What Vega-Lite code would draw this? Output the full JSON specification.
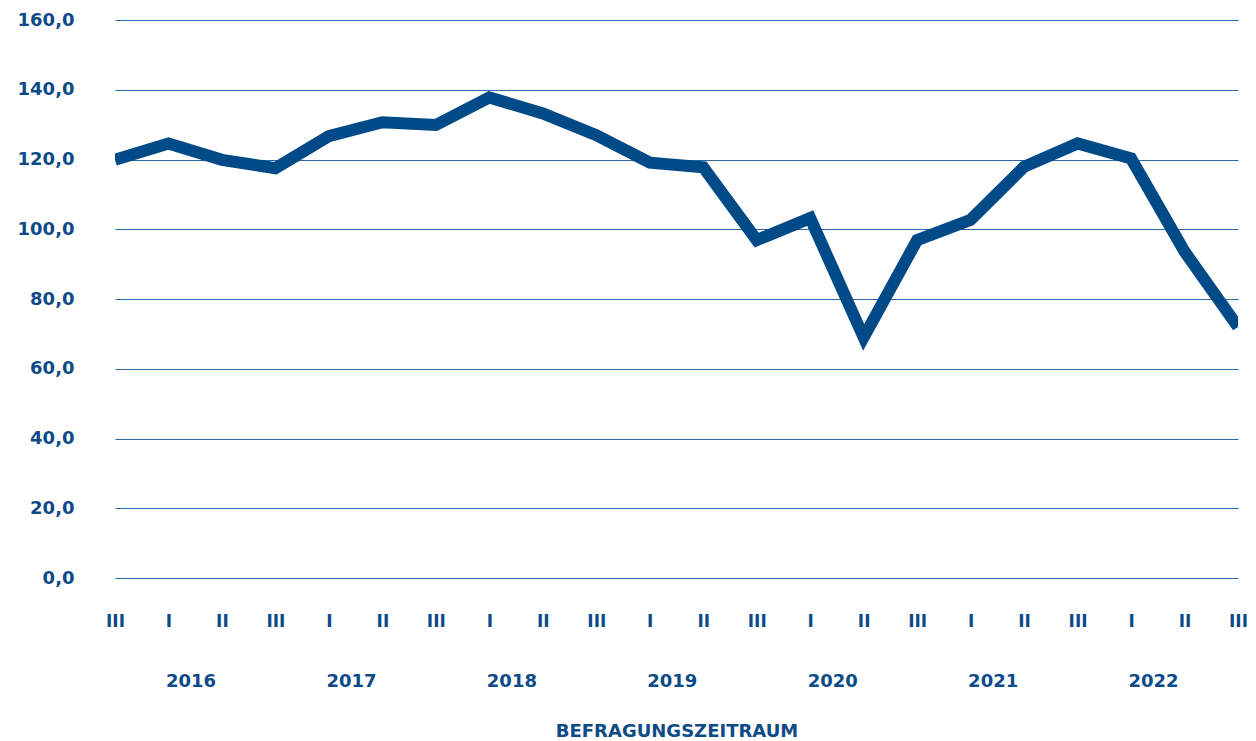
{
  "$schema": "https://vega.github.io/schema/vega-lite/v6.json",
  "width": 1123,
  "height": 558,
  "autosize": {"type": "none"},
  "padding": {"left": 115, "top": 20, "right": 18, "bottom": 163},
  "background": "white",
  "config": {
    "view": {"stroke": null},
    "font": "DejaVu Sans",
    "axis": {
      "labelFont": "DejaVu Sans",
      "labelFontWeight": "bold",
      "labelColor": "#0d4a88",
      "titleFont": "DejaVu Sans",
      "titleFontWeight": "bold",
      "titleColor": "#0d4a88"
    }
  },
  "datasets": {
    "series": [
      {"idx": 0, "period": "III 2015", "value": 119.9},
      {"idx": 1, "period": "I 2016", "value": 124.6},
      {"idx": 2, "period": "II 2016", "value": 119.9},
      {"idx": 3, "period": "III 2016", "value": 117.5},
      {"idx": 4, "period": "I 2017", "value": 126.7},
      {"idx": 5, "period": "II 2017", "value": 130.7},
      {"idx": 6, "period": "III 2017", "value": 129.9},
      {"idx": 7, "period": "I 2018", "value": 137.8},
      {"idx": 8, "period": "II 2018", "value": 133.2},
      {"idx": 9, "period": "III 2018", "value": 127.0},
      {"idx": 10, "period": "I 2019", "value": 119.1},
      {"idx": 11, "period": "II 2019", "value": 117.8},
      {"idx": 12, "period": "III 2019", "value": 96.9},
      {"idx": 13, "period": "I 2020", "value": 103.2},
      {"idx": 14, "period": "II 2020", "value": 69.0},
      {"idx": 15, "period": "III 2020", "value": 96.9},
      {"idx": 16, "period": "I 2021", "value": 102.7},
      {"idx": 17, "period": "II 2021", "value": 117.9},
      {"idx": 18, "period": "III 2021", "value": 124.6},
      {"idx": 19, "period": "I 2022", "value": 120.3},
      {"idx": 20, "period": "II 2022", "value": 93.6},
      {"idx": 21, "period": "III 2022", "value": 72.0}
    ],
    "years": [
      {"pos": 1, "year": 2016},
      {"pos": 4, "year": 2017},
      {"pos": 7, "year": 2018},
      {"pos": 10, "year": 2019},
      {"pos": 13, "year": 2020},
      {"pos": 16, "year": 2021},
      {"pos": 19, "year": 2022}
    ]
  },
  "layer": [
    {
      "data": {"name": "series"},
      "mark": {"type": "line", "color": "#004a88", "strokeWidth": 12, "clip": true, "strokeJoin": "miter", "strokeCap": "butt"},
      "encoding": {
        "x": {
          "field": "idx",
          "type": "quantitative",
          "scale": {"domain": [0, 21], "nice": false, "zero": false},
          "axis": {
            "orient": "bottom",
            "title": null,
            "grid": false,
            "domain": false,
            "ticks": false,
            "tickSize": 0,
            "values": [0,1,2,3,4,5,6,7,8,9,10,11,12,13,14,15,16,17,18,19,20,21],
            "labelExpr": "['III','I','II'][datum.value % 3]",
            "labelFontSize": 17,
            "labelBaseline": "top",
            "labelPadding": 35,
            "labelFlush": false,
            "labelOverlap": false
          }
        },
        "y": {
          "field": "value",
          "type": "quantitative",
          "scale": {"domain": [0, 160], "nice": false},
          "axis": {
            "title": null,
            "values": [0, 20, 40, 60, 80, 100, 120, 140, 160],
            "labelExpr": "replace(format(datum.value, '.1f'), '.', ',')",
            "grid": true,
            "gridColor": "#2f67a0",
            "gridWidth": 1.2,
            "domain": false,
            "ticks": false,
            "tickSize": 0,
            "labelPadding": 41,
            "labelFontSize": 18,
            "labelAlign": "right",
            "labelBaseline": "middle"
          }
        }
      }
    },
    {
      "data": {"name": "years"},
      "mark": {"type": "point", "opacity": 0},
      "encoding": {
        "x": {
          "field": "pos",
          "type": "quantitative",
          "axis": {
            "orient": "bottom",
            "offset": 60,
            "title": "BEFRAGUNGSZEITRAUM",
            "titleFontSize": 18,
            "titlePadding": 32,
            "grid": false,
            "domain": false,
            "ticks": false,
            "tickSize": 0,
            "values": [1, 4, 7, 10, 13, 16, 19],
            "labelExpr": "'' + (2016 + floor((datum.value - 1) / 3))",
            "labelFontSize": 18,
            "labelAlign": "left",
            "labelOffset": -3,
            "labelBaseline": "top",
            "labelPadding": 34,
            "labelFlush": false,
            "labelOverlap": false
          }
        }
      }
    }
  ],
  "resolve": {"axis": {"x": "independent"}}
}
